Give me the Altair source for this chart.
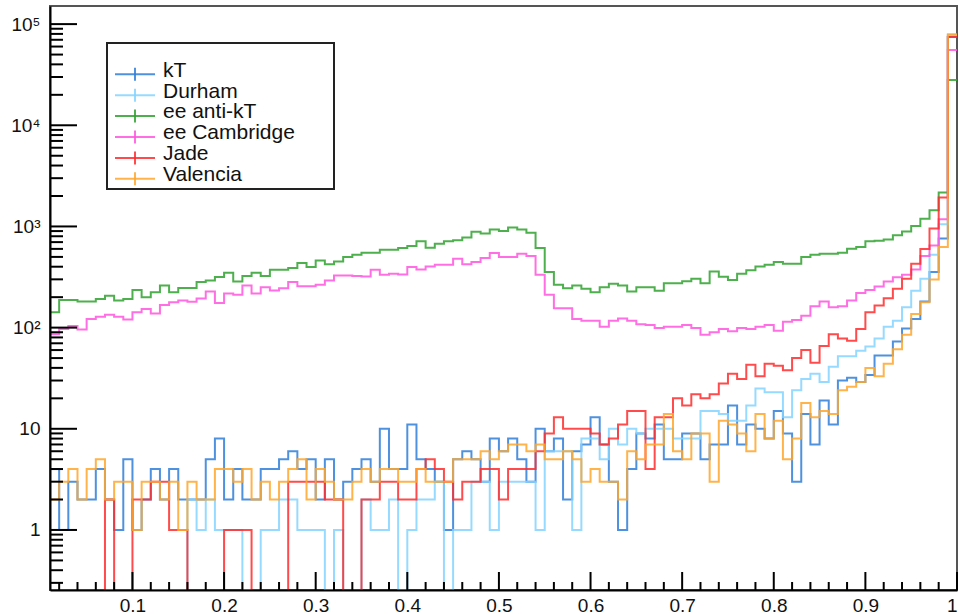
import altair as alt
import pandas as pd

# Histogram binning: 99 bins of width 0.01 covering [0.01, 1.00]
LO_EDGE = 0.01
BIN_W = 0.01

names = ["kT", "Durham", "ee anti-kT", "ee Cambridge", "Jade", "Valencia"]
colors = ["#2f7ed8", "#85d3ff", "#2ea12e", "#ff55dd", "#ff2b2b", "#ffa62b"]

kt = [4, 1, 3, 2, 2, 4, 2, 1, 5, 1,
      2, 4, 2, 4, 2, 2, 2, 5, 8, 2,
      4, 2, 2, 4, 4, 5, 6, 4, 5, 2,
      5, 2, 3, 4, 5, 3, 10, 4, 4, 11,
      5, 4, 3, 1, 5, 6, 5, 3, 8, 6,
      8, 5, 3, 10, 6, 8, 2, 6, 7, 13,
      7, 3, 1, 4, 9, 8, 11, 5, 5, 9,
      9, 5, 7, 7, 17, 7, 11, 10, 8, 15,
      9, 3, 14, 7, 19, 11, 30, 32, 29, 34,
      53, 53, 73, 98, 122, 181, 354, 758, 75000]

durham = [0, 0, 0, 0, 0, 0, 0, 0, 0, 0,
          0, 0, 0, 0, 0, 2, 1, 2, 1, 1,
          1, 0, 0, 1, 1, 2, 2, 1, 1, 1,
          0, 1, 0, 0, 2, 1, 1, 2, 0, 1,
          2, 2, 3, 0, 1, 1, 3, 3, 1, 3,
          3, 3, 3, 1, 6, 6, 6, 1, 8, 8,
          5, 10, 7, 10, 9, 10, 10, 10, 8, 8,
          8, 15, 15, 14, 12, 12, 17, 25, 23, 23,
          13, 24, 31, 35, 29, 41, 52, 52, 59, 65,
          78, 102, 117, 159, 232, 304, 526, 1052, 78000]

anti_kt = [142, 188, 188, 181, 181, 192, 207, 185, 192, 236,
           200, 224, 261, 224, 247, 247, 282, 292, 316, 349,
           286, 323, 349, 323, 373, 373, 388, 435, 397, 462,
           422, 451, 499, 526, 551, 551, 590, 590, 613, 642,
           713, 617, 676, 713, 730, 776, 884, 850, 931, 903,
           975, 931, 864, 613, 354, 265, 245, 261, 242, 224,
           251, 271, 261, 227, 251, 251, 232, 275, 275, 287,
           304, 275, 358, 319, 296, 341, 368, 402, 418, 445,
           428, 428, 499, 526, 538, 538, 551, 603, 627, 713,
           724, 741, 818, 890, 1010, 1190, 1449, 2170, 28100]

cambridge = [86, 97, 104, 96, 122, 128, 134, 128, 120, 142,
             153, 138, 167, 178, 185, 180, 194, 227, 175, 218,
             211, 261, 218, 251, 233, 245, 282, 257, 257, 265,
             292, 328, 328, 323, 320, 373, 333, 341, 335, 397,
             376, 403, 419, 419, 480, 422, 445, 488, 547, 499,
             499, 538, 511, 333, 211, 155, 155, 122, 117, 117,
             102, 117, 123, 117, 108, 106, 99, 102, 102, 106,
             99, 85, 90, 97, 92, 99, 97, 102, 106, 93,
             114, 119, 131, 163, 181, 159, 163, 185, 220, 235,
             255, 285, 315, 333, 376, 511, 650, 1180, 55400]

jade = [0, 0, 0, 0, 0, 0, 2, 0, 0, 2,
        2, 3, 3, 1, 1, 0, 0, 0, 0, 1,
        1, 1, 0, 0, 0, 0, 3, 3, 3, 3,
        2, 2, 0, 0, 2, 2, 3, 3, 2, 2,
        4, 5, 4, 3, 2, 3, 3, 4, 4, 2,
        4, 4, 4, 6, 9, 13, 10, 10, 10, 9,
        7, 8, 11, 15, 15, 4, 13, 13, 20, 17,
        22, 20, 22, 28, 35, 31, 43, 33, 44, 42,
        38, 50, 60, 45, 66, 86, 78, 74, 97, 142,
        165, 195, 242, 304, 428, 600, 953, 1937, 74600]

valencia = [2, 3, 4, 2, 4, 5, 2, 3, 3, 1,
            3, 3, 2, 3, 1, 3, 2, 2, 4, 4,
            3, 4, 2, 3, 2, 3, 4, 5, 2, 4,
            3, 2, 2, 3, 4, 3, 4, 4, 3, 3,
            4, 3, 3, 3, 5, 5, 5, 6, 5, 6,
            7, 7, 6, 7, 5, 5, 6, 5, 3, 4,
            3, 3, 2, 6, 5, 7, 7, 14, 6, 5,
            9, 9, 3, 12, 11, 9, 6, 14, 8, 12,
            5, 8, 18, 13, 15, 14, 24, 26, 29, 40,
            33, 44, 61, 85, 136, 178, 299, 627, 79200]

series_values = [kt, durham, anti_kt, cambridge, jade, valencia]

# Axis tick positions
x_major = [0.1, 0.2, 0.3, 0.4, 0.5, 0.6, 0.7, 0.8, 0.9, 1.0]
y_major = [1, 10, 100, 1000, 10000, 100000]

Y_MIN, Y_MAX = 0.255, 1.51e5
W, H = 907, 584

x_minor = [round(0.02 * k, 2) for k in range(1, 50) if k % 5 != 0]
y_minor = [m * 10 ** e for e in range(-1, 5) for m in range(2, 10)
           if Y_MIN <= m * 10 ** e <= Y_MAX]

# Step outline: each bin contributes its left and right edge at the bin height
rows = []
for name, vals in zip(names, series_values):
    for i, v in enumerate(vals):
        left = round(LO_EDGE + i * BIN_W, 4)
        rows.append({"series": name, "x": left, "count": v, "seq": 2 * i})
        rows.append({"series": name, "x": round(left + BIN_W, 4), "count": v, "seq": 2 * i + 1})
hist = pd.DataFrame(rows)

FONT = "Liberation Sans"
x_scale = alt.Scale(domain=[0.01, 1.0], nice=False, zero=False)
y_scale = alt.Scale(type="log", domain=[Y_MIN, Y_MAX], nice=False, clamp=True)

x_axis = alt.Axis(values=x_major, ticks=False, grid=False, title=None,
                  domainColor="black", domainWidth=2, zindex=1,
                  labelFont=FONT, labelFontSize=19, labelColor="#111",
                  labelBaseline="top", labelPadding=6,
                  labelExpr="datum.value > 0.999 ? '1' : format(datum.value, '.1f')")
y_axis = alt.Axis(values=y_major, ticks=False, grid=False, title=None,
                  domainColor="black", domainWidth=2, zindex=1,
                  labelFont=FONT, labelFontSize=19, labelColor="#111", labelPadding=10,
                  labelExpr="datum.value < 50 ? datum.label : '10' + "
                            "['', '', '\u00b2', '\u00b3', '\u2074', '\u2075'][round(log(datum.value) / LN10)]")

lines = alt.Chart(hist).transform_calculate(
    shown="datum.count > 0 ? datum.count : 0.1"
).mark_line(strokeWidth=2, strokeOpacity=0.85, clip=True).encode(
    x=alt.X("x:Q", scale=x_scale, axis=x_axis),
    y=alt.Y("shown:Q", scale=y_scale, axis=y_axis),
    color=alt.Color("series:N", scale=alt.Scale(domain=names, range=colors), legend=None),
    order=alt.Order("seq:Q"),
)

# Inward-pointing ticks along the bottom and left axes
def x_ticks(values, length):
    return alt.Chart(pd.DataFrame({"t": values})).mark_rule(color="black", strokeWidth=2).encode(
        x=alt.X("t:Q", scale=x_scale, axis=x_axis),
        y=alt.value(H), y2=alt.value(H - length))

def y_ticks(values, length):
    return alt.Chart(pd.DataFrame({"t": values})).mark_rule(color="black", strokeWidth=2).encode(
        y=alt.Y("t:Q", scale=y_scale, axis=y_axis),
        x=alt.value(0), x2=alt.value(length))

ticks = [x_ticks(x_major, 18), x_ticks(x_minor, 8), y_ticks(y_major, 27), y_ticks(y_minor, 13)]

# Legend box with line-and-cross markers
one = pd.DataFrame({"k": [0]})
legend_layers = [
    alt.Chart(one).mark_rect(fill="white", stroke="#222", strokeWidth=2).encode(
        x=alt.value(57), x2=alt.value(284), y=alt.value(37), y2=alt.value(183))
]
for i, (name, col) in enumerate(zip(names, colors)):
    ly = 68.3 + 20.9 * i
    legend_layers.append(alt.Chart(one).mark_rule(color=col, strokeWidth=2, opacity=0.85).encode(
        x=alt.value(65), x2=alt.value(105), y=alt.value(ly)))
    legend_layers.append(alt.Chart(one).mark_rule(color=col, strokeWidth=2, opacity=0.85).encode(
        x=alt.value(85), y=alt.value(ly - 6.5), y2=alt.value(ly + 6.5)))
    legend_layers.append(alt.Chart(one).mark_text(
        text=name, align="left", baseline="alphabetic", font=FONT, fontSize=21, color="#111"
    ).encode(x=alt.value(113), y=alt.value(ly + 2.3)))

chart = alt.layer(lines, *ticks, *legend_layers).properties(
    width=W, height=H,
    autosize=alt.AutoSizeParams(type="none"),
    padding={"left": 50, "top": 6, "right": 3, "bottom": 24},
    background="white",
).configure_view(stroke="#555", strokeWidth=2)

chart.save("out.html", embed_options={"renderer": "svg", "actions": False})
